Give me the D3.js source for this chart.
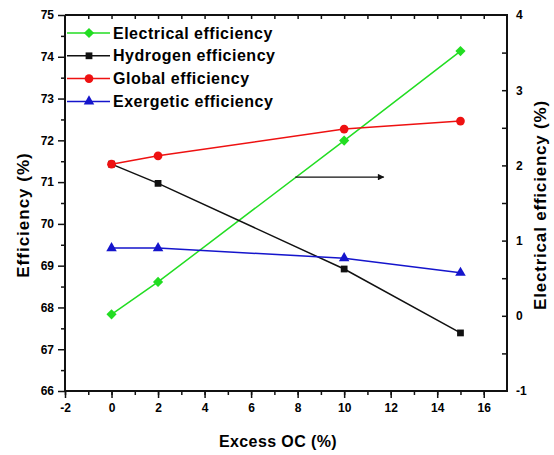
<!DOCTYPE html>
<html>
<head>
<meta charset="utf-8">
<script src="https://cdn.jsdelivr.net/npm/d3@7"></script>
<style>
  body { margin: 0; background: #fff; }
  text { font-family: "Liberation Sans", Arial, sans-serif; font-weight: bold; fill: #000; }
</style>
</head>
<body>
<div class="grafico"></div>
<script>
// valores
var excessOC = [0, 2, 10, 15];
var electricalEff = [0.02, 0.45, 2.33, 3.52];   // eixo da direita
var hydrogenEff = [71.43, 70.97, 68.92, 67.39];
var globalEff = [71.43, 71.63, 72.27, 72.46];
var exergeticEff = [69.42, 69.42, 69.18, 68.83];

var seriesNames = ["Electrical efficiency", "Hydrogen efficiency", "Global efficiency", "Exergetic efficiency"];
var xTicks = [-2, 0, 2, 4, 6, 8, 10, 12, 14, 16];
var yLeftTicks = [66, 67, 68, 69, 70, 71, 72, 73, 74, 75];
var yRightTicks = [-1, 0, 1, 2, 3, 4];
var arrowFrom = [7.9, 71.12], arrowTo = [11.7, 71.12];

var W = 554, H = 455;
var margin = {top: 15, right: 47, bottom: 64, left: 65},
    width = W - margin.left - margin.right,
    height = H - margin.top - margin.bottom;

var svg = d3.select(".grafico").append("svg")
  .attr("width", W).attr("height", H);

var g = svg.append("g")
  .attr("transform", "translate(" + margin.left + "," + margin.top + ")");

var x = d3.scaleLinear().domain([-2, 17]).range([0, width]);
var yL = d3.scaleLinear().domain([66, 75]).range([height, 0]);
var yR = d3.scaleLinear().domain([-1, 4]).range([height, 0]);

var series = [
  {name: seriesNames[0], vals: electricalEff, y: yR, color: "#22dd22", sym: "diamond"},
  {name: seriesNames[1], vals: hydrogenEff, y: yL, color: "#111111", sym: "square"},
  {name: seriesNames[2], vals: globalEff, y: yL, color: "#ee1111", sym: "circle"},
  {name: seriesNames[3], vals: exergeticEff, y: yL, color: "#1515cc", sym: "triangle"}
];

// formato com hifen simples, como no original
var fmt = function(d) { return String(d); };

function drawSymbol(parent, s, cx, cy) {
  var t = "translate(" + cx + "," + cy + ")";
  var p;
  if (s.sym == "diamond") p = parent.append("path").attr("d", d3.symbol(d3.symbolSquare, 52)()).attr("transform", t + " rotate(45)");
  else if (s.sym == "square") p = parent.append("path").attr("d", d3.symbol(d3.symbolSquare, 46)()).attr("transform", t);
  else if (s.sym == "circle") p = parent.append("path").attr("d", d3.symbol(d3.symbolCircle, 60)()).attr("transform", t);
  else p = parent.append("path").attr("d", d3.symbol(d3.symbolTriangle, 48)()).attr("transform", t);
  p.attr("fill", s.color);
}

// linhas e marcadores
series.forEach(function(s) {
  var pts = excessOC.map(function(v, i) { return [x(v), s.y(s.vals[i])]; });
  g.append("path")
    .attr("d", d3.line()(pts))
    .attr("fill", "none")
    .attr("stroke", s.color)
    .attr("stroke-width", 1.5);
  pts.forEach(function(p) { drawSymbol(g, s, p[0], p[1]); });
});

// seta
svg.append("defs").append("marker")
  .attr("id", "seta").attr("viewBox", "0 0 10 10")
  .attr("refX", 9).attr("refY", 5)
  .attr("markerWidth", 7).attr("markerHeight", 5)
  .attr("orient", "auto")
  .append("path").attr("d", "M0,0L10,5L0,10z").attr("fill", "#111");

g.append("line")
  .attr("x1", x(arrowFrom[0])).attr("y1", yL(arrowFrom[1]))
  .attr("x2", x(arrowTo[0])).attr("y2", yL(arrowTo[1]))
  .attr("stroke", "#111").attr("stroke-width", 1.3)
  .attr("marker-end", "url(#seta)");

// eixos
function styleAxis(a) {
  a.select(".domain").remove();
  a.selectAll("line").attr("stroke", "#111").attr("stroke-width", 1.5);
  a.selectAll("text").style("font-size", "12px").attr("fill", "#000");
}

var xMinor = d3.range(-2, 17, 1);
var gxMinor = g.append("g").attr("transform", "translate(0," + height + ")")
  .call(d3.axisBottom(x).tickValues(xMinor).tickSize(4).tickFormat(""));
styleAxis(gxMinor);
var gx = g.append("g").attr("transform", "translate(0," + height + ")")
  .call(d3.axisBottom(x).tickValues(xTicks).tickSize(7).tickPadding(5).tickFormat(fmt));
styleAxis(gx);

var gxTop = g.append("g")
  .call(d3.axisBottom(x).tickValues(xMinor.filter(function(d) { return d > -2; })).tickSize(4).tickFormat(""));
styleAxis(gxTop);

var gyMinor = g.append("g")
  .call(d3.axisLeft(yL).tickValues(d3.range(66.5, 75, 1)).tickSize(4).tickFormat(""));
styleAxis(gyMinor);
var gy = g.append("g")
  .call(d3.axisLeft(yL).tickValues(yLeftTicks).tickSize(7).tickPadding(4).tickFormat(fmt));
styleAxis(gy);

var gyR = g.append("g").attr("transform", "translate(" + width + ",0)")
  .call(d3.axisLeft(yR).tickValues(d3.range(-0.5, 4, 0.5)).tickSize(5).tickFormat(""));
styleAxis(gyR);
var gyRl = g.append("g").attr("transform", "translate(" + width + ",0)")
  .call(d3.axisRight(yR).tickValues(yRightTicks).tickSize(0).tickPadding(9).tickFormat(fmt));
styleAxis(gyRl);

// moldura
g.append("path")
  .attr("d", "M0,0V" + height + "H" + width + "V0H0")
  .attr("fill", "none").attr("stroke", "#111").attr("stroke-width", 2);

// titulos
svg.append("text")
  .attr("x", margin.left + width / 2 - 8).attr("y", 447)
  .attr("text-anchor", "middle")
  .style("font-size", "16px").style("letter-spacing", "0.4px")
  .text("Excess OC (%)");

svg.append("text")
  .attr("transform", "translate(29," + (margin.top + 200) + ") rotate(-90)")
  .attr("text-anchor", "middle")
  .style("font-size", "17px").style("letter-spacing", "1px")
  .text("Efficiency (%)");

svg.append("text")
  .attr("transform", "translate(546," + (margin.top + 190) + ") rotate(-90)")
  .attr("text-anchor", "middle")
  .style("font-size", "17px").style("letter-spacing", "0.8px")
  .text("Electrical efficiency (%)");

// legenda
var legend = g.append("g").attr("transform", "translate(2,18)");
series.forEach(function(s, i) {
  var ly = i * 22.8;
  legend.append("line")
    .attr("x1", 0).attr("x2", 43).attr("y1", ly).attr("y2", ly)
    .attr("stroke", s.color).attr("stroke-width", 1.5);
  drawSymbol(legend, s, 22, ly);
  legend.append("text")
    .attr("x", 46).attr("y", ly).attr("dy", "0.35em")
    .style("font-size", "16px").style("letter-spacing", "0.5px")
    .text(s.name);
});
</script>
</body>
</html>
